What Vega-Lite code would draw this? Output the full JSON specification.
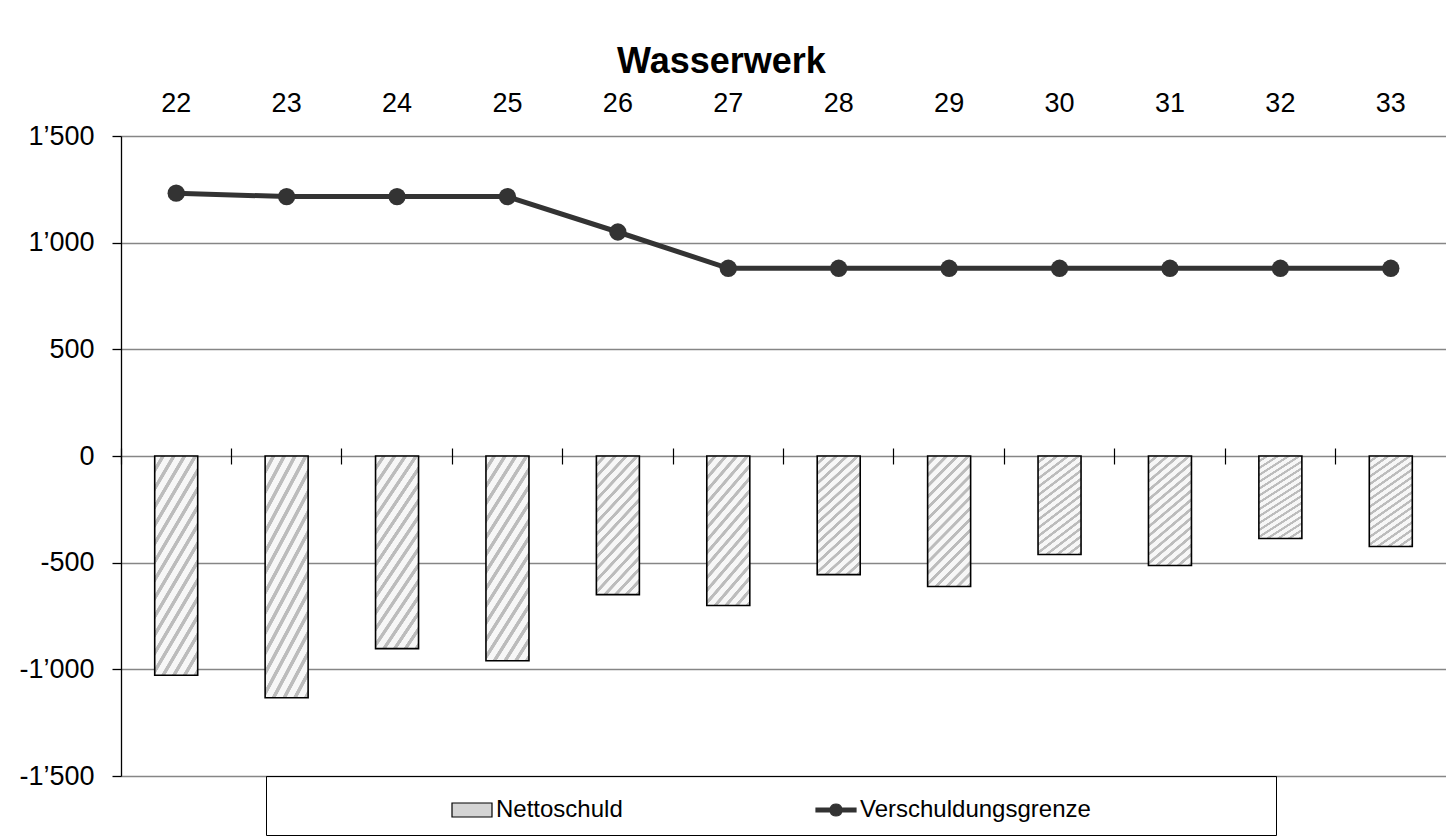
{
  "$schema": "https://vega.github.io/schema/vega-lite/v6.json",
  "autosize": "none",
  "width": 1325,
  "height": 640,
  "padding": {"left": 121, "top": 136, "right": 0, "bottom": 61},
  "background": "white",
  "config": {
    "font": "Liberation Sans",
    "view": {"stroke": null},
    "axis": {"labelColor": "#000", "labelFont": "Liberation Sans"}
  },
  "title": {
    "text": "Wasserwerk",
    "font": "Liberation Sans",
    "fontSize": 36,
    "fontWeight": "bold",
    "color": "#000",
    "anchor": "middle",
    "frame": "bounds",
    "dx": -11,
    "offset": 8
  },
  "data": {
    "values": [
      {"year": 22, "series": "Nettoschuld", "value": -1028},
      {"year": 23, "series": "Nettoschuld", "value": -1133},
      {"year": 24, "series": "Nettoschuld", "value": -903},
      {"year": 25, "series": "Nettoschuld", "value": -960},
      {"year": 26, "series": "Nettoschuld", "value": -650},
      {"year": 27, "series": "Nettoschuld", "value": -701},
      {"year": 28, "series": "Nettoschuld", "value": -556},
      {"year": 29, "series": "Nettoschuld", "value": -612},
      {"year": 30, "series": "Nettoschuld", "value": -462},
      {"year": 31, "series": "Nettoschuld", "value": -513},
      {"year": 32, "series": "Nettoschuld", "value": -387},
      {"year": 33, "series": "Nettoschuld", "value": -424},
      {"year": 22, "series": "Verschuldungsgrenze", "value": 1232},
      {"year": 23, "series": "Verschuldungsgrenze", "value": 1216},
      {"year": 24, "series": "Verschuldungsgrenze", "value": 1216},
      {"year": 25, "series": "Verschuldungsgrenze", "value": 1216},
      {"year": 26, "series": "Verschuldungsgrenze", "value": 1050},
      {"year": 27, "series": "Verschuldungsgrenze", "value": 880},
      {"year": 28, "series": "Verschuldungsgrenze", "value": 880},
      {"year": 29, "series": "Verschuldungsgrenze", "value": 880},
      {"year": 30, "series": "Verschuldungsgrenze", "value": 880},
      {"year": 31, "series": "Verschuldungsgrenze", "value": 880},
      {"year": 32, "series": "Verschuldungsgrenze", "value": 880},
      {"year": 33, "series": "Verschuldungsgrenze", "value": 880}
    ]
  },
  "resolve": {"axis": {"x": "independent"}},
  "layer": [
    {
      "transform": [{"filter": "datum.series === 'Nettoschuld'"}],
      "mark": {
        "type": "bar",
        "size": 43,
        "stroke": "#000",
        "strokeWidth": 1.6,
        "fill": {
          "gradient": "linear", "x1": 0, "y1": 0, "x2": 1, "y2": 3,
          "stops": [
            {"offset": 0, "color": "#f7f7f7"}, {"offset": 0.014, "color": "#f7f7f7"}, {"offset": 0.0155, "color": "#bcbcbc"}, {"offset": 0.0235, "color": "#bcbcbc"},
            {"offset": 0.025, "color": "#f7f7f7"}, {"offset": 0.039, "color": "#f7f7f7"}, {"offset": 0.0405, "color": "#bcbcbc"}, {"offset": 0.0485, "color": "#bcbcbc"},
            {"offset": 0.05, "color": "#f7f7f7"}, {"offset": 0.064, "color": "#f7f7f7"}, {"offset": 0.0655, "color": "#bcbcbc"}, {"offset": 0.0735, "color": "#bcbcbc"},
            {"offset": 0.075, "color": "#f7f7f7"}, {"offset": 0.089, "color": "#f7f7f7"}, {"offset": 0.0905, "color": "#bcbcbc"}, {"offset": 0.0985, "color": "#bcbcbc"},
            {"offset": 0.1, "color": "#f7f7f7"}, {"offset": 0.114, "color": "#f7f7f7"}, {"offset": 0.1155, "color": "#bcbcbc"}, {"offset": 0.1235, "color": "#bcbcbc"},
            {"offset": 0.125, "color": "#f7f7f7"}, {"offset": 0.139, "color": "#f7f7f7"}, {"offset": 0.1405, "color": "#bcbcbc"}, {"offset": 0.1485, "color": "#bcbcbc"},
            {"offset": 0.15, "color": "#f7f7f7"}, {"offset": 0.164, "color": "#f7f7f7"}, {"offset": 0.1655, "color": "#bcbcbc"}, {"offset": 0.1735, "color": "#bcbcbc"},
            {"offset": 0.175, "color": "#f7f7f7"}, {"offset": 0.189, "color": "#f7f7f7"}, {"offset": 0.1905, "color": "#bcbcbc"}, {"offset": 0.1985, "color": "#bcbcbc"},
            {"offset": 0.2, "color": "#f7f7f7"}, {"offset": 0.214, "color": "#f7f7f7"}, {"offset": 0.2155, "color": "#bcbcbc"}, {"offset": 0.2235, "color": "#bcbcbc"},
            {"offset": 0.225, "color": "#f7f7f7"}, {"offset": 0.239, "color": "#f7f7f7"}, {"offset": 0.2405, "color": "#bcbcbc"}, {"offset": 0.2485, "color": "#bcbcbc"},
            {"offset": 0.25, "color": "#f7f7f7"}, {"offset": 0.264, "color": "#f7f7f7"}, {"offset": 0.2655, "color": "#bcbcbc"}, {"offset": 0.2735, "color": "#bcbcbc"},
            {"offset": 0.275, "color": "#f7f7f7"}, {"offset": 0.289, "color": "#f7f7f7"}, {"offset": 0.2905, "color": "#bcbcbc"}, {"offset": 0.2985, "color": "#bcbcbc"},
            {"offset": 0.3, "color": "#f7f7f7"}, {"offset": 0.314, "color": "#f7f7f7"}, {"offset": 0.3155, "color": "#bcbcbc"}, {"offset": 0.3235, "color": "#bcbcbc"},
            {"offset": 0.325, "color": "#f7f7f7"}, {"offset": 0.339, "color": "#f7f7f7"}, {"offset": 0.3405, "color": "#bcbcbc"}, {"offset": 0.3485, "color": "#bcbcbc"},
            {"offset": 0.35, "color": "#f7f7f7"}, {"offset": 0.364, "color": "#f7f7f7"}, {"offset": 0.3655, "color": "#bcbcbc"}, {"offset": 0.3735, "color": "#bcbcbc"},
            {"offset": 0.375, "color": "#f7f7f7"}, {"offset": 0.389, "color": "#f7f7f7"}, {"offset": 0.3905, "color": "#bcbcbc"}, {"offset": 0.3985, "color": "#bcbcbc"},
            {"offset": 0.4, "color": "#f7f7f7"}, {"offset": 1, "color": "#f7f7f7"}
          ]
        }
      },
      "encoding": {
        "x": {
          "field": "year", "type": "ordinal",
          "scale": {"paddingInner": 0, "paddingOuter": 0},
          "axis": {
            "orient": "top", "title": null, "ticks": false, "tickSize": 0, "domain": false, "grid": false,
            "labelAngle": 0, "labelFontSize": 27, "labelPadding": 19, "labelColor": "#000"
          }
        },
        "y": {
          "field": "value", "type": "quantitative",
          "scale": {"domain": [-1500, 1500], "nice": false, "zero": false},
          "axis": {
            "orient": "left",
            "title": null,
            "values": [-1500, -1000, -500, 0, 500, 1000, 1500],
            "labelExpr": "(datum.value < 0 ? '-' : '') + replace(format(abs(datum.value), ','), ',', '’')",
            "grid": true, "gridColor": "#868686", "gridWidth": 1.3,
            "domain": true, "domainColor": "#000", "domainWidth": 1.3,
            "ticks": true, "tickColor": "#000", "tickSize": 9, "tickWidth": 1.3,
            "labelFontSize": 27, "labelPadding": 18, "labelColor": "#000"
          }
        }
      }
    },
    {
      "transform": [{"filter": "datum.series === 'Verschuldungsgrenze'"}],
      "mark": {
        "type": "line",
        "color": "#333333",
        "strokeWidth": 5,
        "point": {"filled": true, "size": 300, "opacity": 1, "color": "#333333"}
      },
      "encoding": {
        "x": {
          "field": "year", "type": "ordinal",
          "scale": {"paddingInner": 0, "paddingOuter": 0},
          "axis": {
            "orient": "bottom", "title": null, "labels": false, "domain": false, "grid": false,
            "ticks": true, "tickSize": 16, "tickColor": "#000", "tickWidth": 1.2,
            "bandPosition": 0, "offset": -328
          }
        },
        "y": {
          "field": "value", "type": "quantitative",
          "axis": {
            "orient": "left",
            "title": null,
            "values": [-1500, -1000, -500, 0, 500, 1000, 1500],
            "labelExpr": "(datum.value < 0 ? '-' : '') + replace(format(abs(datum.value), ','), ',', '’')",
            "grid": true, "gridColor": "#868686", "gridWidth": 1.3,
            "domain": true, "domainColor": "#000", "domainWidth": 1.3,
            "ticks": true, "tickColor": "#000", "tickSize": 9, "tickWidth": 1.3,
            "labelFontSize": 27, "labelPadding": 18, "labelColor": "#000"
          }
        }
      }
    },
    {
      "mark": {"type": "point", "opacity": 0, "filled": true},
      "encoding": {
        "fill": {
          "field": "series", "type": "nominal",
          "scale": {"domain": ["Nettoschuld", "Verschuldungsgrenze"], "range": ["#d4d4d4", "#333333"]},
          "legend": {
            "title": " ", "titleOrient": "right", "titlePadding": 172, "titleFontSize": 24,
            "orient": "none", "legendX": 145, "legendY": 640,
            "direction": "horizontal", "columns": 2, "padding": 13,
            "symbolOffset": 172, "columnPadding": 20,
            "labelFontSize": 24, "labelFont": "Liberation Sans", "labelColor": "#000",
            "labelOffset": 3, "labelLimit": 500, "strokeColor": "#000",
            "symbolSize": 1600, "symbolOpacity": 1, "symbolStrokeWidth": 1.2
          }
        },
        "stroke": {
          "field": "series", "type": "nominal",
          "scale": {"domain": ["Nettoschuld", "Verschuldungsgrenze"], "range": ["#000000", "#333333"]},
          "legend": {
            "title": " ", "titleOrient": "right", "titlePadding": 172, "titleFontSize": 24,
            "orient": "none", "legendX": 145, "legendY": 640,
            "direction": "horizontal", "columns": 2, "padding": 13,
            "symbolOffset": 172, "columnPadding": 20,
            "labelFontSize": 24, "labelFont": "Liberation Sans", "labelColor": "#000",
            "labelOffset": 3, "labelLimit": 500, "strokeColor": "#000",
            "symbolSize": 1600, "symbolOpacity": 1, "symbolStrokeWidth": 1.2
          }
        },
        "shape": {
          "field": "series", "type": "nominal",
          "scale": {
            "domain": ["Nettoschuld", "Verschuldungsgrenze"],
            "range": [
              "M-1,-0.35H1V0.35H-1Z",
              "M-1,-0.1H-0.29A0.31,0.31,0,0,1,0.29,-0.1H1V0.1H0.29A0.31,0.31,0,0,1,-0.29,0.1H-1Z"
            ]
          },
          "legend": {
            "title": " ", "titleOrient": "right", "titlePadding": 172, "titleFontSize": 24,
            "orient": "none", "legendX": 145, "legendY": 640,
            "direction": "horizontal", "columns": 2, "padding": 13,
            "symbolOffset": 172, "columnPadding": 20,
            "labelFontSize": 24, "labelFont": "Liberation Sans", "labelColor": "#000",
            "labelOffset": 3, "labelLimit": 500, "strokeColor": "#000",
            "symbolSize": 1600, "symbolOpacity": 1, "symbolStrokeWidth": 1.2
          }
        }
      }
    }
  ]
}
